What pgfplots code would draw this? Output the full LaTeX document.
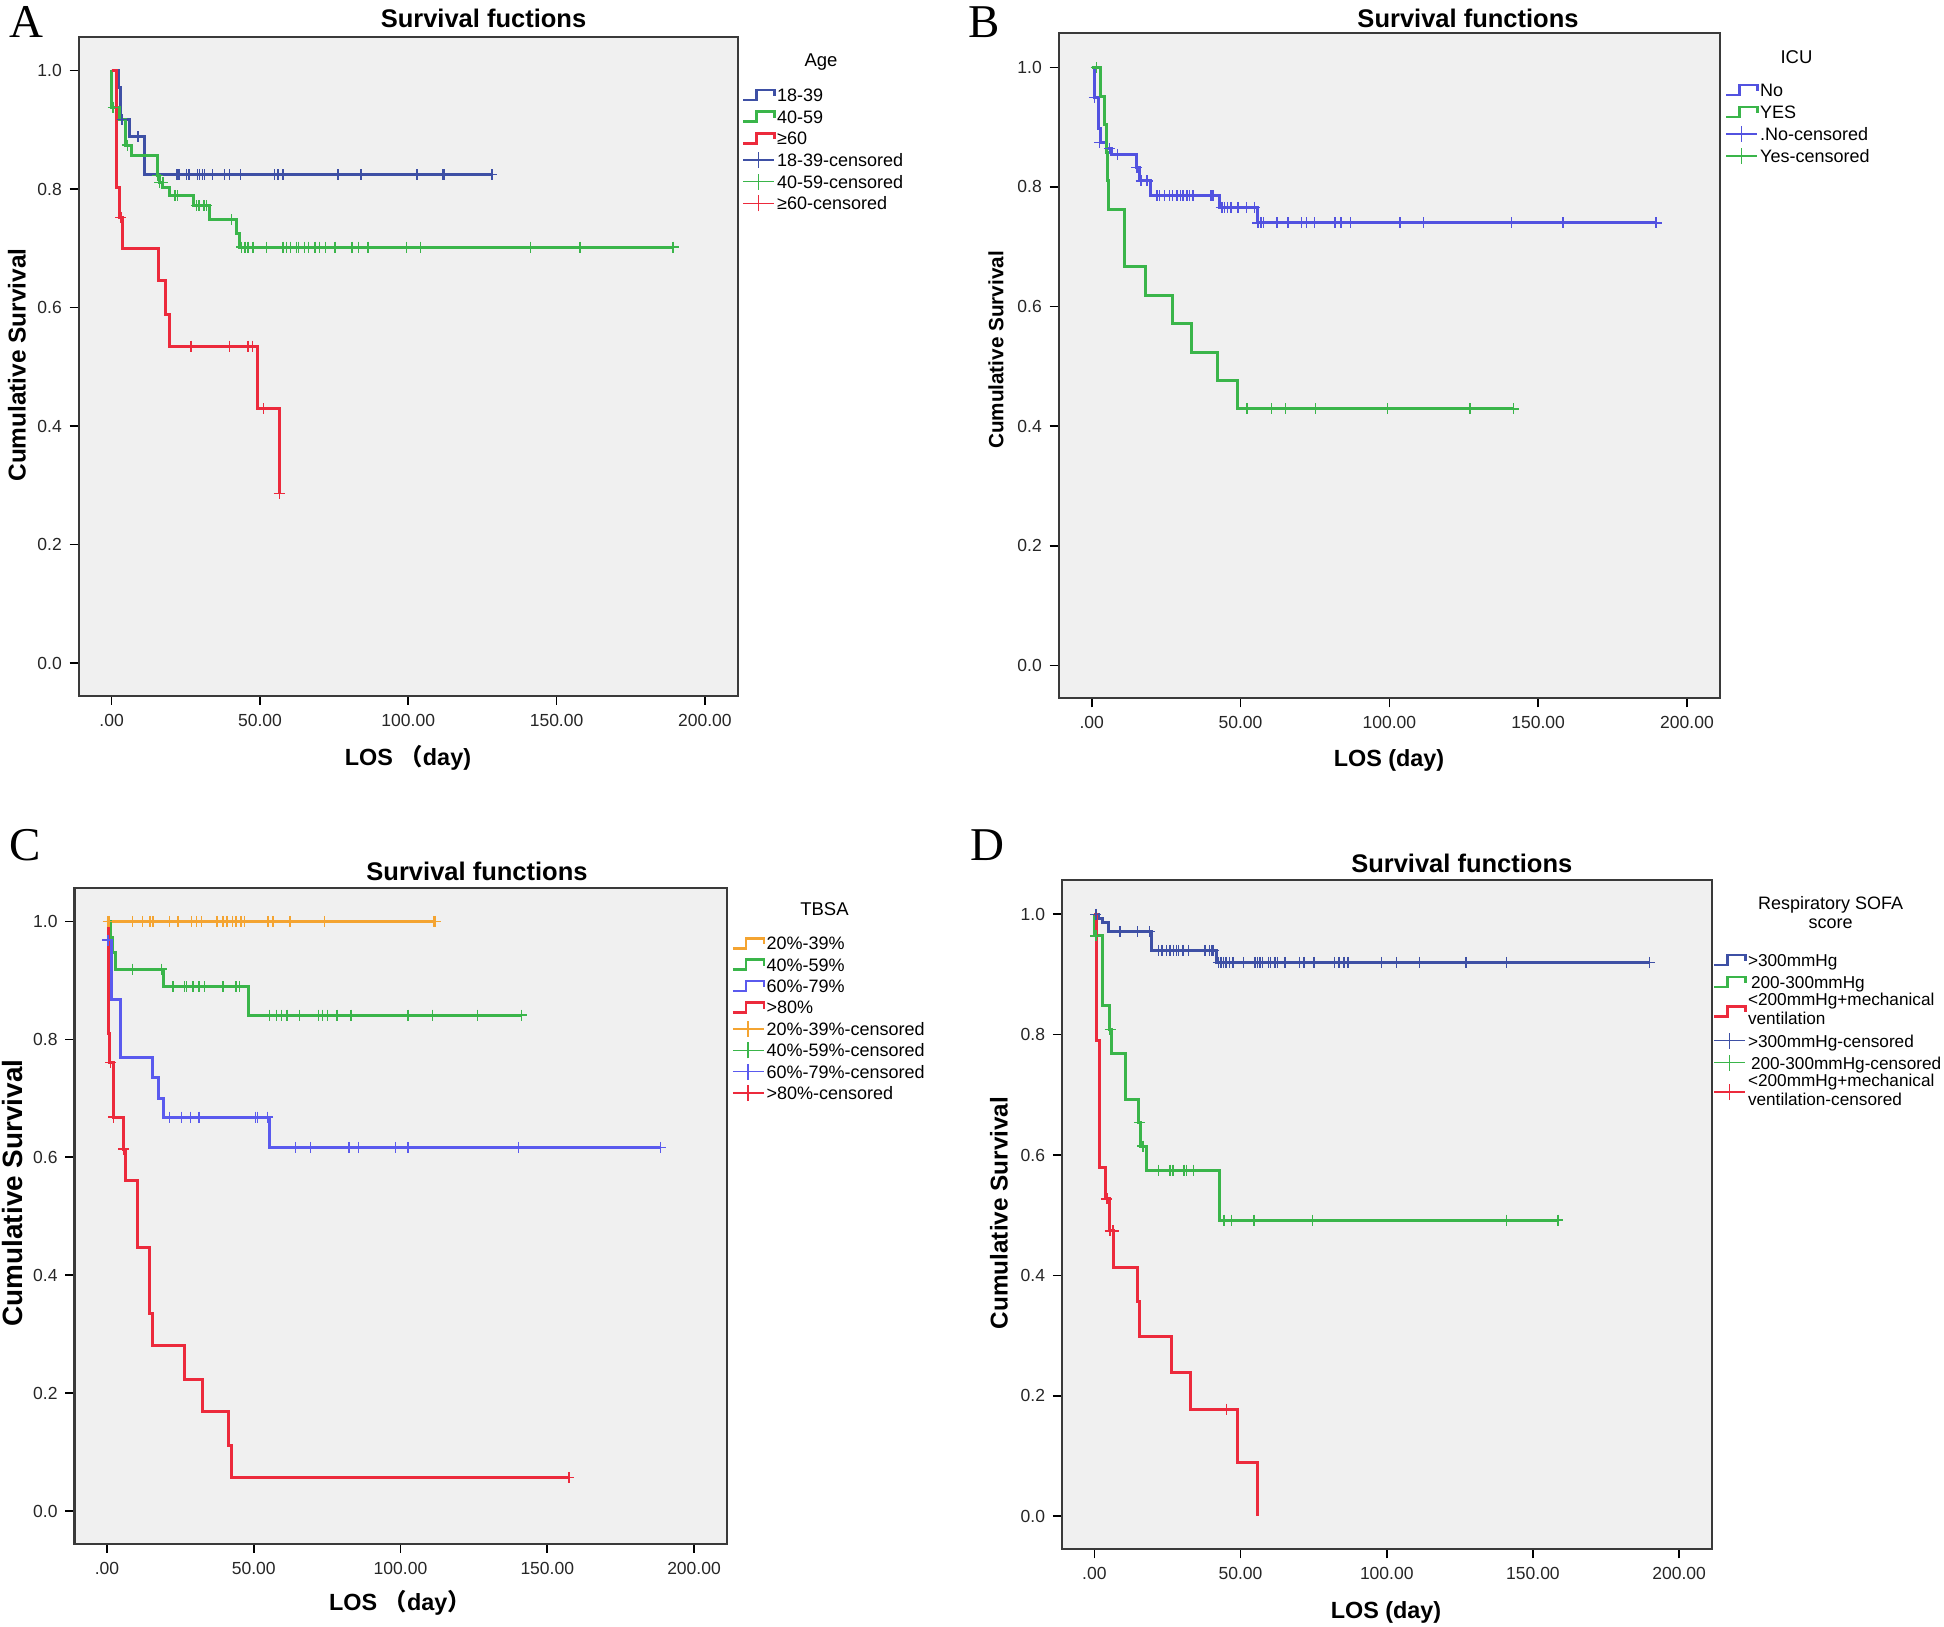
\documentclass[border=0pt]{standalone}
\usepackage{fontspec}
\setmainfont{Liberation Sans}
\newfontfamily\serifL{Liberation Serif}
\newfontfamily\cjk{Noto Sans CJK SC}
\usepackage{pgfplots}
\pgfplotsset{compat=1.18}

\definecolor{bgc}{HTML}{F0F0F0}
\definecolor{frm}{HTML}{3A3A3A}
\definecolor{cblueA}{HTML}{3E50A5}
\definecolor{cblueB}{HTML}{5252E0}
\definecolor{cblueC}{HTML}{5A5AEE}
\definecolor{cgreen}{HTML}{3AB54A}
\definecolor{cred}{HTML}{EC2A3C}
\definecolor{corange}{HTML}{F4A431}

\newcommand{\lstrut}[1]{\rule[\dimexpr 6.4pt-#1/2\relax]{0pt}{#1}}
\newcommand{\twol}[2]{\begin{tabular}[c]{@{}l@{}}#1\\#2\end{tabular}}

\pgfplotsset{
  km/.style={
    scale only axis, anchor=south west,
    xmin=-11.1, xmax=211.1, ymin=-0.055, ymax=1.057,
    xtick={0,50,100,150,200}, xticklabels={.00,50.00,100.00,150.00,200.00},
    ytick={0,0.2,0.4,0.6,0.8,1.0}, yticklabels={0.0,0.2,0.4,0.6,0.8,1.0},
    xtick pos=lower, ytick pos=left,
    tick align=outside, major tick length=9pt,
    tick style={draw=black, line width=1.6pt},
    axis line style={draw=frm, line width=2.2pt},
    axis background/.style={fill=bgc},
    ticklabel style={font=\fontsize{17.5}{20}\selectfont, inner sep=0pt, text=black!85},
    xticklabel style={yshift=-9pt},
    yticklabel style={xshift=-7.7pt},
    legend cell align=left,
    legend style={draw=none, fill=none, inner sep=0pt, outer sep=0pt, anchor=north west,
      font=\fontsize{18}{18.4}\selectfont, row sep=0pt,
      nodes={inner sep=0pt, outer sep=0pt, text depth={}},
      /tikz/every odd column/.append style={column sep=1.5pt}},
  },
  kml/.style={const plot, no marks, line width=3pt,
    legend image code/.code={\draw[line width=2.6pt] (0pt,-5pt) -- (13pt,-5pt) -- (13pt,5pt) -- (31pt,5pt) -- (31pt,-1pt);}},
  kmc/.style={only marks, mark=+, mark size=5.5pt, mark options={line width=1.4pt},
    legend image code/.code={\draw[line width=1.4pt] (0pt,0pt) -- (31pt,0pt); \draw[line width=1.4pt] (15pt,-8pt) -- (15pt,8pt);}},
}

\begin{document}
\begin{tikzpicture}
\useasboundingbox (0,0) rectangle (1944pt,1627pt);

% ================= Panel A =================
\begin{axis}[km, at={(78.7pt,931.3pt)}, width=659.1pt, height=659pt,
  legend style={at={(axis description cs:1.0064,0.928)}}]
\addplot[kml, color=cblueA] coordinates {(0,1) (2.2,0.972) (3.1,0.917) (6.1,0.888) (11.2,0.824) (128.2,0.824)};
\addlegendentry{\lstrut{21.7pt}18-39}
\addplot[kml, color=cgreen] coordinates {(0,1) (0,0.938) (2.5,0.918) (4.8,0.874) (6.7,0.857) (15.4,0.823) (16.0,0.811) (17.0,0.803) (19.6,0.789) (27.5,0.772) (33.1,0.748) (42.1,0.725) (43.2,0.702) (189.3,0.702)};
\addlegendentry{\lstrut{21.7pt}40-59}
\addplot[kml, color=cred] coordinates {(0,1) (1.5,0.803) (2.8,0.752) (3.6,0.699) (15.9,0.645) (18.1,0.589) (19.5,0.535) (49.2,0.429) (56.5,0.286)};
\addlegendentry{\lstrut{21.7pt}≥60}
\addplot[kmc, color=cblueA] coordinates {(3.5,0.917) (8.9,0.888) (22.1,0.824) (22.7,0.824) (25.2,0.824) (26.1,0.824) (28.9,0.824) (29.7,0.824) (30.6,0.824) (31.4,0.824) (34.0,0.824) (38.1,0.824) (39.8,0.824) (43.4,0.824) (55.0,0.824) (56.1,0.824) (57.8,0.824) (76.3,0.824) (84.1,0.824) (102.9,0.824) (111.5,0.824) (112.1,0.824) (128.2,0.824)};
\addlegendentry{\lstrut{21.7pt}18-39-censored}
\addplot[kmc, color=cgreen] coordinates {(0.5,0.938) (5.3,0.874) (15.4,0.823) (16.2,0.811) (17.3,0.811) (21.3,0.789) (22.2,0.789) (28.6,0.772) (29.4,0.772) (31.2,0.772) (31.9,0.772) (40.4,0.748) (43.8,0.702) (44.9,0.702) (46.0,0.702) (47.7,0.702) (52.2,0.702) (57.8,0.702) (58.9,0.702) (60.4,0.702) (62.3,0.702) (63.1,0.702) (65.1,0.702) (66.3,0.702) (68.5,0.702) (70.1,0.702) (72.2,0.702) (75.3,0.702) (81.1,0.702) (83.2,0.702) (86.4,0.702) (99.4,0.702) (104.2,0.702) (141.2,0.702) (157.9,0.702) (189.3,0.702)};
\addlegendentry{\lstrut{21.7pt}40-59-censored}
\addplot[kmc, color=cred] coordinates {(3.1,0.752) (26.8,0.535) (39.7,0.535) (46.0,0.535) (47.5,0.535) (51.2,0.429) (56.5,0.286)};
\addlegendentry{\lstrut{21.7pt}≥60-censored}
\end{axis}

% ================= Panel B =================
\begin{axis}[km, at={(1058.7pt,928.7pt)}, width=661.3pt, height=665pt,
  legend style={at={(axis description cs:1.0076,0.9313)}}]
\addplot[kml, color=cblueB] coordinates {(0,1) (0.9,0.950) (2.2,0.897) (2.9,0.874) (5.1,0.864) (6.7,0.854) (15.2,0.833) (16.0,0.810) (19.7,0.785) (42.9,0.766) (55.8,0.740) (189.6,0.740)};
\addlegendentry{\lstrut{22pt}No}
\addplot[kml, color=cgreen] coordinates {(0,1) (3.1,0.952) (4.2,0.905) (4.8,0.857) (5.3,0.810) (5.7,0.762) (11.0,0.667) (17.9,0.619) (27.2,0.571) (33.4,0.524) (42.2,0.476) (48.9,0.429) (141.7,0.429)};
\addlegendentry{\lstrut{22pt}YES}
\addplot[kmc, color=cblueB] coordinates {(0.9,0.950) (2.6,0.874) (5.9,0.864) (8.7,0.854) (15.2,0.833) (16.6,0.810) (18.6,0.810) (21.9,0.785) (22.7,0.785) (24.4,0.785) (26.1,0.785) (27.2,0.785) (28.7,0.785) (29.8,0.785) (30.6,0.785) (32.0,0.785) (32.8,0.785) (34.0,0.785) (40.1,0.785) (40.7,0.785) (43.5,0.766) (44.0,0.766) (44.6,0.766) (45.7,0.766) (46.8,0.766) (49.1,0.766) (51.9,0.766) (54.7,0.766) (55.8,0.740) (56.9,0.740) (57.8,0.740) (62.3,0.740) (65.9,0.740) (70.4,0.740) (72.1,0.740) (74.9,0.740) (81.7,0.740) (83.7,0.740) (86.9,0.740) (103.6,0.740) (111.5,0.740) (141.1,0.740) (158.3,0.740) (189.6,0.740)};
\addlegendentry{\lstrut{22pt}.No-censored}
\addplot[kmc, color=cgreen] coordinates {(1.5,1) (52.2,0.429) (60.3,0.429) (65.1,0.429) (75.1,0.429) (99.4,0.429) (127.1,0.429) (141.7,0.429)};
\addlegendentry{\lstrut{22pt}Yes-censored}
\end{axis}

% ================= Panel C =================
\begin{axis}[km, at={(74.4pt,83.3pt)}, width=652.2pt, height=656pt,
  legend style={at={(axis description cs:1.0075,0.9315)}}]
\addplot[kml, color=corange] coordinates {(0,1) (111.8,1)};
\addlegendentry{\lstrut{21.4pt}20\%-39\%}
\addplot[kml, color=cgreen] coordinates {(0,1) (1.2,0.973) (2.0,0.947) (3.0,0.919) (19.1,0.889) (48.3,0.841) (141.2,0.841)};
\addlegendentry{\lstrut{21.4pt}40\%-59\%}
\addplot[kml, color=cblueC] coordinates {(0,1) (0.5,0.968) (1.5,0.868) (4.6,0.769) (15.5,0.735) (17.4,0.700) (19.3,0.668) (55.4,0.617) (188.6,0.617)};
\addlegendentry{\lstrut{21.4pt}60\%-79\%}
\addplot[kml, color=cred] coordinates {(0,1) (0.5,0.809) (0.9,0.761) (2.3,0.668) (5.5,0.614) (6.3,0.560) (10.4,0.447) (14.6,0.335) (15.5,0.281) (26.5,0.224) (32.5,0.169) (41.4,0.111) (42.3,0.057) (157.4,0.057)};
\addlegendentry{\lstrut{21.4pt}>80\%}
\addplot[kmc, color=corange] coordinates {(0.4,1) (0.9,1) (8.6,1) (12.2,1) (14.6,1) (15.7,1) (21.4,1) (24.2,1) (28.7,1) (30.4,1) (32.1,1) (37.5,1) (39.5,1) (40.9,1) (42.7,1) (44.0,1) (45.7,1) (46.9,1) (54.8,1) (56.5,1) (62.4,1) (74.1,1) (111.2,1) (111.8,1)};
\addlegendentry{\lstrut{21.4pt}20\%-39\%-censored}
\addplot[kmc, color=cgreen] coordinates {(8.6,0.919) (18.5,0.919) (22.5,0.889) (26.5,0.889) (27.0,0.889) (29.3,0.889) (31.3,0.889) (33.3,0.889) (39.5,0.889) (44.0,0.889) (45.2,0.889) (55.4,0.841) (57.7,0.841) (59.4,0.841) (61.3,0.841) (65.6,0.841) (72.0,0.841) (73.4,0.841) (75.1,0.841) (78.3,0.841) (83.1,0.841) (102.6,0.841) (111.0,0.841) (126.2,0.841) (141.2,0.841)};
\addlegendentry{\lstrut{21.4pt}40\%-59\%-censored}
\addplot[kmc, color=cblueC] coordinates {(0.3,0.968) (21.4,0.668) (25.3,0.668) (28.4,0.668) (31.3,0.668) (50.6,0.668) (51.2,0.668) (54.6,0.668) (64.3,0.617) (69.4,0.617) (82.5,0.617) (85.7,0.617) (98.3,0.617) (102.6,0.617) (140.1,0.617) (188.6,0.617)};
\addlegendentry{\lstrut{21.4pt}60\%-79\%-censored}
\addplot[kmc, color=cred] coordinates {(1.2,0.761) (2.3,0.668) (5.7,0.614) (157.4,0.057)};
\addlegendentry{\lstrut{21.4pt}>80\%-censored}
\end{axis}

% ================= Panel D =================
\begin{axis}[km, at={(1061.9pt,77.7pt)}, width=649.7pt, height=669.3pt,
  legend style={at={(axis description cs:1.002,0.897)}, font=\fontsize{17.2}{18.4}\selectfont}]
\addplot[kml, color=cblueA] coordinates {(0,1) (1.4,0.993) (2.9,0.986) (4.9,0.971) (19.7,0.940) (41.6,0.920) (189.8,0.920)};
\addlegendentry{\lstrut{22pt}>300mmHg}
\addplot[kml, color=cgreen] coordinates {(0,1) (0,0.964) (2.9,0.848) (5.2,0.809) (5.8,0.769) (10.8,0.693) (15.1,0.654) (15.9,0.615) (17.7,0.575) (42.8,0.492) (158.5,0.492)};
\addlegendentry{\lstrut{22pt}\hspace{3pt}200-300mmHg}
\addplot[kml, color=cred] coordinates {(0,1) (0.6,0.790) (1.8,0.579) (3.7,0.527) (5.2,0.474) (6.6,0.414) (14.6,0.356) (15.6,0.298) (26.5,0.238) (32.8,0.178) (48.9,0.089) (55.7,0.0)};
\addlegendentry{\twol{<200mmHg+mechanical}{ventilation}}
\addplot[kmc, color=cblueA] coordinates {(0.5,1) (8.8,0.971) (14.8,0.971) (18.9,0.971) (21.9,0.940) (23.1,0.940) (24.6,0.940) (25.9,0.940) (27.1,0.940) (28.0,0.940) (28.8,0.940) (30.3,0.940) (32.2,0.940) (37.9,0.940) (39.4,0.940) (40.2,0.940) (40.7,0.940) (42.4,0.920) (43.3,0.920) (44.1,0.920) (45.0,0.920) (46.2,0.920) (47.4,0.920) (51.0,0.920) (55.0,0.920) (55.8,0.920) (56.7,0.920) (57.6,0.920) (59.5,0.920) (60.3,0.920) (61.8,0.920) (62.6,0.920) (65.2,0.920) (70.1,0.920) (71.7,0.920) (75.1,0.920) (82.2,0.920) (83.7,0.920) (85.4,0.920) (86.8,0.920) (98.1,0.920) (103.4,0.920) (111.2,0.920) (127.1,0.920) (140.9,0.920) (189.8,0.920)};
\addlegendentry{\lstrut{22pt}>300mmHg-censored}
\addplot[kmc, color=cgreen] coordinates {(0.5,0.964) (5.4,0.809) (15.4,0.654) (16.6,0.615) (21.9,0.575) (25.9,0.575) (26.9,0.575) (30.7,0.575) (31.6,0.575) (33.9,0.575) (44.4,0.492) (46.8,0.492) (54.6,0.492) (74.7,0.492) (140.9,0.492) (158.5,0.492)};
\addlegendentry{\lstrut{22pt}\hspace{3pt}200-300mmHg-censored}
\addplot[kmc, color=cred] coordinates {(4.3,0.527) (5.4,0.474) (6.4,0.474) (45.1,0.178)};
\addlegendentry{\twol{<200mmHg+mechanical}{ventilation-censored}}
\end{axis}

% ================= Texts =================
\begin{scope}[every node/.style={inner sep=0pt, outer sep=0pt}]
% panel letters
\node[anchor=base, font=\serifL\fontsize{47}{50}\selectfont] at (26pt,1589.5pt) {A};
\node[anchor=base, font=\serifL\fontsize{47}{50}\selectfont] at (984pt,1589.5pt) {B};
\node[anchor=base, font=\serifL\fontsize{47}{50}\selectfont] at (25pt,766.5pt) {C};
\node[anchor=base, font=\serifL\fontsize{47}{50}\selectfont] at (987pt,766.5pt) {D};
% titles
\node[anchor=base, font=\bfseries\fontsize{25.5}{28}\selectfont] at (483.5pt,1599.6pt) {Survival fuctions};
\node[anchor=base, font=\bfseries\fontsize{25.5}{28}\selectfont] at (1468pt,1599.6pt) {Survival functions};
\node[anchor=base, font=\bfseries\fontsize{25.5}{28}\selectfont] at (477pt,746.9pt) {Survival functions};
\node[anchor=base, font=\bfseries\fontsize{25.5}{28}\selectfont] at (1461.8pt,754.6pt) {Survival functions};
% x labels
\node[anchor=base, font=\bfseries\fontsize{23.4}{26}\selectfont] at (408pt,861.3pt) {LOS {\cjk\bfseries （}day)};
\node[anchor=base, font=\bfseries\fontsize{23.4}{26}\selectfont] at (1389pt,860.6pt) {LOS (day)};
\node[anchor=base, font=\bfseries\fontsize{23.4}{26}\selectfont] at (400pt,16.6pt) {LOS {\cjk\bfseries （}day{\cjk\bfseries ）}};
\node[anchor=base, font=\bfseries\fontsize{23.4}{26}\selectfont] at (1386pt,8.6pt) {LOS (day)};
% y labels
\node[anchor=base, rotate=90, font=\bfseries\fontsize{24.4}{27}\selectfont] at (25.7pt,1262pt) {Cumulative Survival};
\node[anchor=base, rotate=90, font=\bfseries\fontsize{20.7}{23}\selectfont] at (1003.4pt,1277pt) {Cumulative Survival};
\node[anchor=base, rotate=90, font=\bfseries\fontsize{27.9}{30}\selectfont] at (22.4pt,434pt) {Cumulative Survival};
\node[anchor=base, rotate=90, font=\bfseries\fontsize{24.3}{27}\selectfont] at (1007.7pt,414pt) {Cumulative Survival};
% legend titles
\node[anchor=base, font=\fontsize{18.5}{20}\selectfont] at (821pt,1560.6pt) {Age};
\node[anchor=base, font=\fontsize{18.5}{20}\selectfont] at (1796.5pt,1563.9pt) {ICU};
\node[anchor=base, font=\fontsize{18.5}{20}\selectfont] at (824.5pt,711.3pt) {TBSA};
\node[anchor=base, font=\fontsize{18}{20}\selectfont] at (1830.6pt,717.3pt) {Respiratory SOFA};
\node[anchor=base, font=\fontsize{18}{20}\selectfont] at (1830.6pt,698.3pt) {score};
\end{scope}
\end{tikzpicture}
\end{document}
